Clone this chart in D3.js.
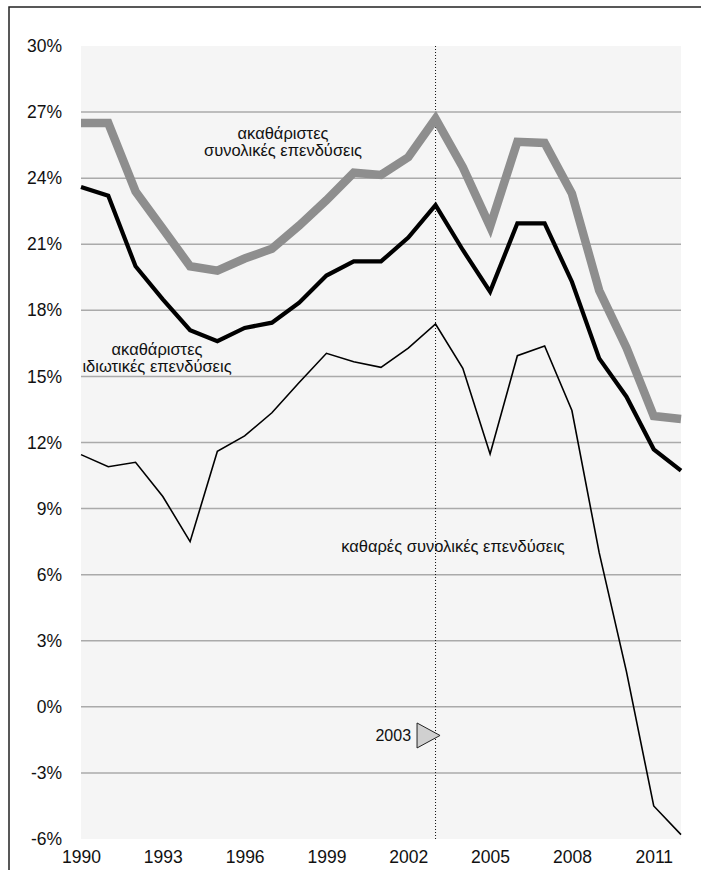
<!DOCTYPE html>
<html>
<head>
<meta charset="utf-8">
<script src="https://cdn.jsdelivr.net/npm/d3@7"></script>
<style>
  body { margin: 0; background: #fff; }
  text { font-family: "Liberation Sans", Arial, sans-serif; fill: #111; }
</style>
</head>
<body>
<div id="chart"></div>
<script>
var years = d3.range(1990, 2013);
// ακαθάριστες συνολικές επενδύσεις (% ΑΕΠ)
var grossTotal = [26.5, 26.5, 23.4, 21.7, 20.0, 19.8, 20.35, 20.8, 21.85, 23.0, 24.25, 24.15, 24.95,
  26.7, 24.5, 21.8, 25.65, 25.6, 23.3, 18.9, 16.3, 13.2, 13.07];
// ακαθάριστες ιδιωτικές επενδύσεις
var grossPrivate = [23.6, 23.2, 20.0, 18.5, 17.1, 16.6, 17.2, 17.44, 18.35, 19.58, 20.22, 20.22, 21.3,
  22.78, 20.74, 18.85, 21.95, 21.95, 19.3, 15.82, 14.08, 11.69, 10.72];
// καθαρές συνολικές επενδύσεις
var netTotal = [11.45, 10.9, 11.1, 9.55, 7.5, 11.6, 12.3, 13.35, 14.72, 16.05, 15.67, 15.41, 16.28,
  17.38, 15.37, 11.48, 15.94, 16.38, 13.45, 7.0, 1.6, -4.5, -5.8];
var yTicks = [30, 27, 24, 21, 18, 15, 12, 9, 6, 3, 0, -3, -6];
var xTicks = [1990, 1993, 1996, 1999, 2002, 2005, 2008, 2011];
var markYear = 2003;

var svgWidth = 701;
var svgHeight = 870;
var plot = { left: 81, right: 681, top: 46, bottom: 839 };

var svg = d3.select("#chart")
  .append("svg")
  .attr("width", svgWidth)
  .attr("height", svgHeight);

// frame
svg.append("rect")
  .attr("x", 9).attr("y", 7)
  .attr("width", 800).attr("height", 900)
  .attr("fill", "none")
  .attr("stroke", "#222")
  .attr("stroke-width", 1.5);

var x = d3.scaleLinear().domain([1990, 2012]).range([plot.left, plot.right]);
var y = d3.scaleLinear().domain([-6, 30]).range([plot.bottom, plot.top]);

// plot background
svg.append("rect")
  .attr("x", x(1990)).attr("y", y(30))
  .attr("width", x(2012) - x(1990))
  .attr("height", y(-6) - y(30))
  .attr("fill", "#f5f5f5");

// gridlines
svg.append("g")
  .selectAll("line")
  .data(yTicks.filter(d => d < 30 && d > -6))
  .enter().append("line")
  .attr("x1", x(1990)).attr("x2", x(2012))
  .attr("y1", d => y(d)).attr("y2", d => y(d))
  .attr("stroke", "#aaa")
  .attr("stroke-width", 1.5);

// y axis
var leftAxis = d3.axisLeft(y)
  .tickValues(yTicks)
  .tickFormat(d => d + "%")
  .tickSize(0)
  .tickPadding(19);
var yAxis = svg.append("g")
  .attr("transform", `translate(${plot.left}, 0)`)
  .call(leftAxis);
yAxis.select(".domain").remove();
yAxis.selectAll("text").attr("font-size", 17.5).attr("font-family", null);

// x axis
var bottomAxis = d3.axisBottom(x)
  .tickValues(xTicks)
  .tickFormat(d3.format("d"))
  .tickSize(0)
  .tickPadding(12);
var xAxis = svg.append("g")
  .attr("transform", `translate(0, ${plot.bottom})`)
  .call(bottomAxis);
xAxis.select(".domain").remove();
xAxis.selectAll("text").attr("font-size", 17.5).attr("font-family", null);

// dotted marker line
svg.append("line")
  .attr("x1", x(markYear)).attr("x2", x(markYear))
  .attr("y1", y(30)).attr("y2", y(-6))
  .attr("stroke", "#111")
  .attr("stroke-width", 1)
  .attr("stroke-dasharray", "1,2");

var line = d3.line()
  .x((d, i) => x(years[i]))
  .y(d => y(d));

svg.append("path")
  .attr("d", line(grossTotal))
  .attr("fill", "none")
  .attr("stroke", "#8e8e8e")
  .attr("stroke-width", 8.5);

svg.append("path")
  .attr("d", line(grossPrivate))
  .attr("fill", "none")
  .attr("stroke", "#000")
  .attr("stroke-width", 4.2);

svg.append("path")
  .attr("d", line(netTotal))
  .attr("fill", "none")
  .attr("stroke", "#000")
  .attr("stroke-width", 1.6);

// series labels
function label(lines, cx, y0) {
  var t = svg.append("text")
    .attr("text-anchor", "middle")
    .attr("font-size", 16.5);
  lines.forEach(function(s, i) {
    t.append("tspan").attr("x", cx).attr("y", y0 + i * 17).text(s);
  });
}
label(["ακαθάριστες", "συνολικές επενδύσεις"], 283, 139);
label(["ακαθάριστες", "ιδιωτικές επενδύσεις"], 157, 355);
label(["καθαρές συνολικές επενδύσεις"], 453, 552);

// 2003 marker
var my = y(-1.3);
var mx = x(markYear) + 4.5;
svg.append("path")
  .attr("d", `M${mx - 23},${my - 12.5}L${mx - 23},${my + 12.5}L${mx},${my}Z`)
  .attr("fill", "#d0d0d0")
  .attr("stroke", "#222")
  .attr("stroke-width", 1);
svg.append("text")
  .attr("x", mx - 29)
  .attr("y", my + 6)
  .attr("text-anchor", "end")
  .attr("font-size", 16)
  .text(markYear);
</script>
</body>
</html>
